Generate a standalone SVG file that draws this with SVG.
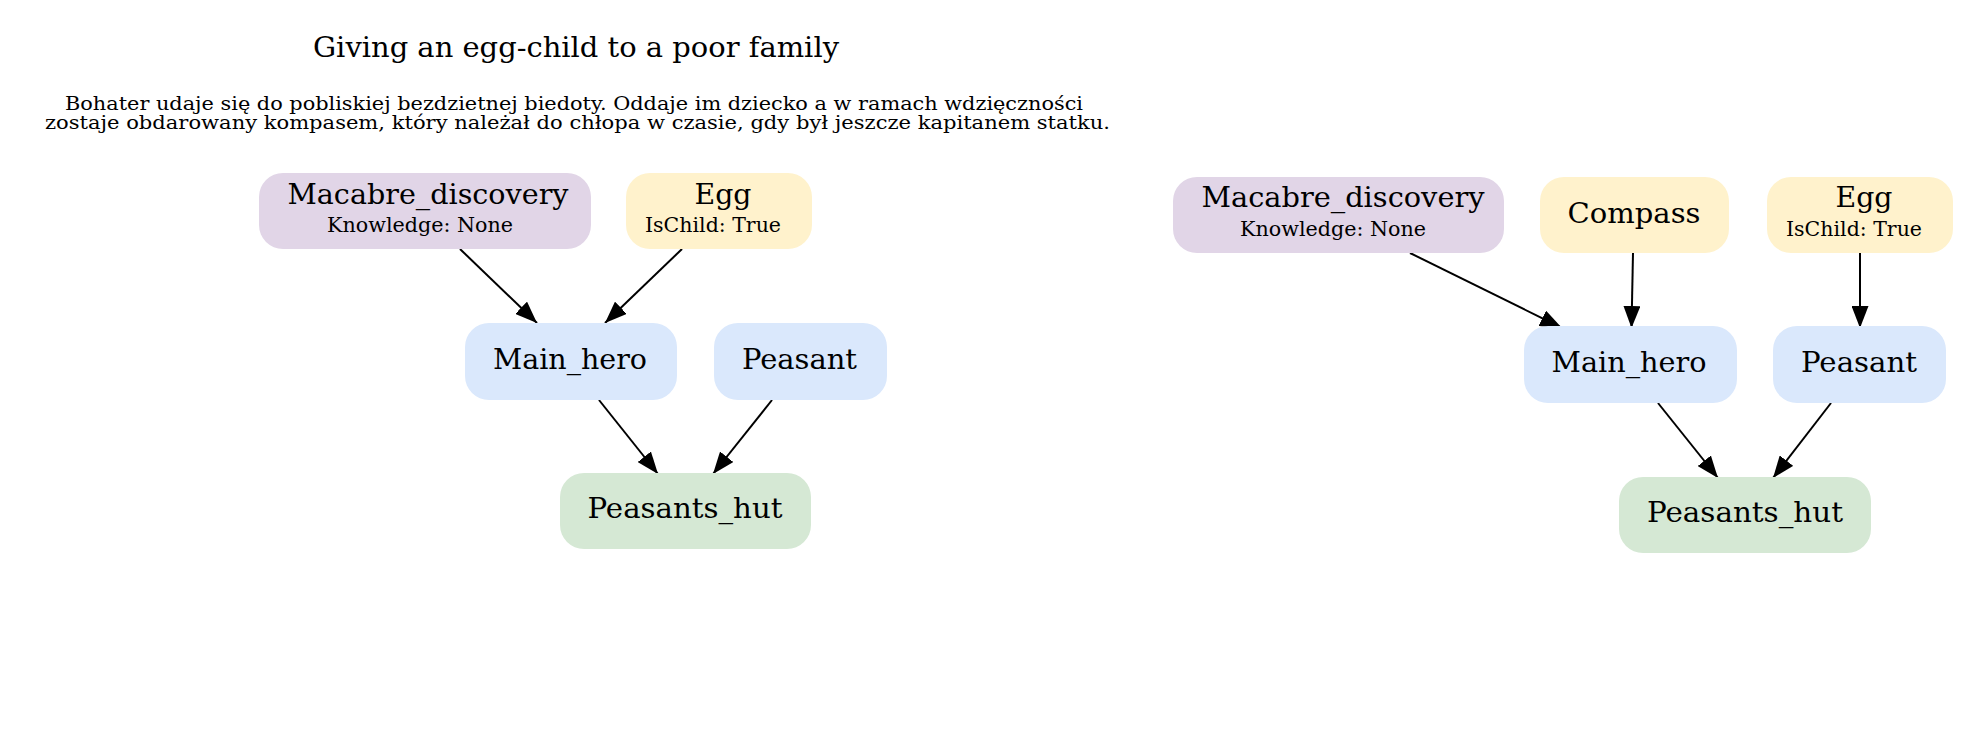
<svg xmlns="http://www.w3.org/2000/svg" width="1980" height="731" viewBox="0 0 1980 731">
<defs>
<style>
text{font-family:"DejaVu Serif","Liberation Serif",serif;fill:#000;text-anchor:middle}
.big{font-size:28px}
.small{font-size:20px}
.sub{font-size:18px}
.purple{fill:#e1d5e7}
.yellow{fill:#fff2cc}
.blue{fill:#dae8fc}
.green{fill:#d5e8d4}
.edge{stroke:#000;stroke-width:2;fill:none;marker-end:url(#arr)}
</style>
<marker id="arr" markerUnits="userSpaceOnUse" markerWidth="22" markerHeight="17" refX="22" refY="8.5" orient="auto">
<path d="M0,0 L22,8.5 L0,17 z" fill="#000"/>
</marker>
</defs>
<rect width="1980" height="731" fill="#fff"/>
<g id="title">
<text class="big" x="576" y="57" textLength="526" lengthAdjust="spacingAndGlyphs">Giving an egg-child to a poor family</text>
<text class="sub" x="574" y="110" textLength="1018" lengthAdjust="spacingAndGlyphs">Bohater udaje się do pobliskiej bezdzietnej biedoty. Oddaje im dziecko a w ramach wdzięczności</text>
<text class="sub" x="577.5" y="128.5" textLength="1065" lengthAdjust="spacingAndGlyphs">zostaje obdarowany kompasem, który należał do chłopa w czasie, gdy był jeszcze kapitanem statku.</text>
</g>
<g id="connectors">
<line class="edge" x1="460" y1="249" x2="537" y2="323"/>
<line class="edge" x1="682" y1="249" x2="605" y2="323"/>
<line class="edge" x1="599" y1="400" x2="658" y2="474"/>
<line class="edge" x1="772" y1="400" x2="713" y2="474"/>
<line class="edge" x1="1410" y1="253" x2="1562" y2="328"/>
<line class="edge" x1="1633" y1="253" x2="1631.5" y2="328"/>
<line class="edge" x1="1860" y1="253" x2="1860" y2="328"/>
<line class="edge" x1="1658" y1="403" x2="1718" y2="478"/>
<line class="edge" x1="1831" y1="403" x2="1773" y2="478"/>
</g>
<g id="L_Macabre_discovery">
<rect class="purple" x="259" y="173" width="332" height="76" rx="24"/>
<text class="big" x="428" y="204" textLength="281" lengthAdjust="spacingAndGlyphs">Macabre_discovery</text>
<text class="small" x="420" y="232" textLength="186" lengthAdjust="spacingAndGlyphs">Knowledge: None</text>
</g>
<g id="L_Egg">
<rect class="yellow" x="626" y="173" width="186" height="76" rx="24"/>
<text class="big" x="723" y="204" textLength="57" lengthAdjust="spacingAndGlyphs">Egg</text>
<text class="small" x="713" y="232" textLength="136" lengthAdjust="spacingAndGlyphs">IsChild: True</text>
</g>
<g id="L_Main_hero">
<rect class="blue" x="465" y="323" width="212" height="77" rx="24"/>
<text class="big" x="570" y="369" textLength="154" lengthAdjust="spacingAndGlyphs">Main_hero</text>
</g>
<g id="L_Peasant">
<rect class="blue" x="714" y="323" width="173" height="77" rx="24"/>
<text class="big" x="799.5" y="369" textLength="115" lengthAdjust="spacingAndGlyphs">Peasant</text>
</g>
<g id="L_Peasants_hut">
<rect class="green" x="560" y="473" width="251" height="76" rx="24"/>
<text class="big" x="685" y="518" textLength="195" lengthAdjust="spacingAndGlyphs">Peasants_hut</text>
</g>
<g id="R_Macabre_discovery">
<rect class="purple" x="1173" y="177" width="331" height="76" rx="24"/>
<text class="big" x="1343" y="207" textLength="283" lengthAdjust="spacingAndGlyphs">Macabre_discovery</text>
<text class="small" x="1333" y="236" textLength="186" lengthAdjust="spacingAndGlyphs">Knowledge: None</text>
</g>
<g id="R_Compass">
<rect class="yellow" x="1540" y="177" width="189" height="76" rx="24"/>
<text class="big" x="1634" y="223" textLength="133" lengthAdjust="spacingAndGlyphs">Compass</text>
</g>
<g id="R_Egg">
<rect class="yellow" x="1767" y="177" width="186" height="76" rx="24"/>
<text class="big" x="1864" y="207" textLength="57" lengthAdjust="spacingAndGlyphs">Egg</text>
<text class="small" x="1854" y="236" textLength="136" lengthAdjust="spacingAndGlyphs">IsChild: True</text>
</g>
<g id="R_Main_hero">
<rect class="blue" x="1524" y="326" width="213" height="77" rx="24"/>
<text class="big" x="1629" y="372" textLength="155" lengthAdjust="spacingAndGlyphs">Main_hero</text>
</g>
<g id="R_Peasant">
<rect class="blue" x="1773" y="326" width="173" height="77" rx="24"/>
<text class="big" x="1859" y="372" textLength="116" lengthAdjust="spacingAndGlyphs">Peasant</text>
</g>
<g id="R_Peasants_hut">
<rect class="green" x="1619" y="477" width="252" height="76" rx="24"/>
<text class="big" x="1745" y="522" textLength="196" lengthAdjust="spacingAndGlyphs">Peasants_hut</text>
</g>
</svg>
